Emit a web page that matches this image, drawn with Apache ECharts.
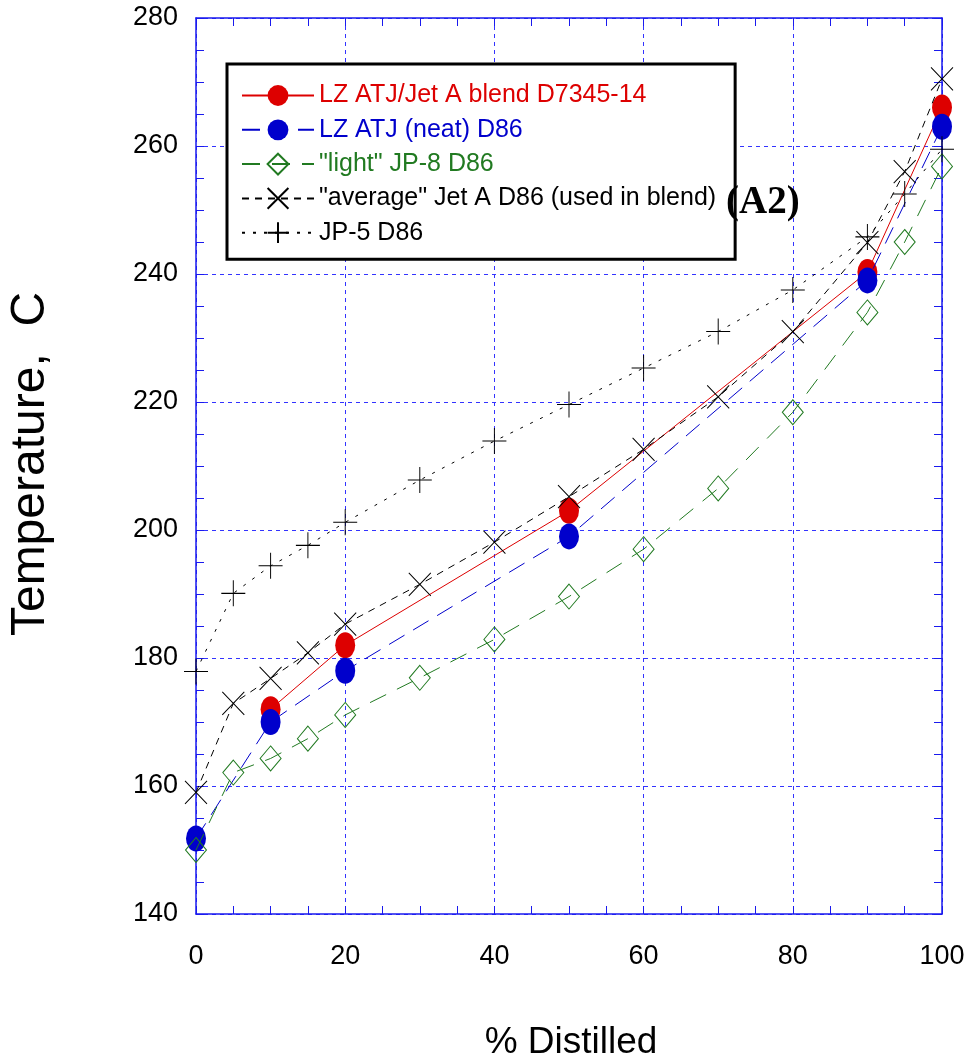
<!DOCTYPE html>
<html><head><meta charset="utf-8">
<script src="https://cdn.jsdelivr.net/npm/echarts@6/dist/echarts.min.js"></script>
<style>html,body{margin:0;padding:0;background:#fff}#c{width:969px;height:1064px}</style>
</head><body><div id="c"></div>
<script>
// ---- data ----
const xBlend = [10, 20, 50, 90, 100];
const yBlend = [172.0, 182.0, 203.0, 240.3, 266.0];
const xNeat = [0, 10, 20, 50, 90, 100];
const yNeat = [151.8, 170.0, 178.0, 199.0, 239.0, 263.0];
const xFull = [0, 5, 10, 15, 20, 30, 40, 50, 60, 70, 80, 90, 95, 100];
const yJP8 = [150.0, 162.1, 164.3, 167.4, 171.1, 176.9, 182.9, 189.6, 197.0, 206.5, 218.4, 234.0, 245.0, 256.8];
const yJetA = [159.0, 172.9, 176.8, 180.8, 185.3, 191.5, 198.1, 205.2, 212.6, 220.8, 231.0, 244.9, 256.0, 270.5];
const yJP5 = [177.9, 190.1, 194.4, 197.6, 201.2, 207.8, 213.9, 219.6, 225.3, 231.0, 237.5, 245.8, 252.5, 259.5];
const names = ['LZ ATJ/Jet A blend D7345-14', 'LZ ATJ (neat) D86', '"light" JP-8 D86', '"average" Jet A D86 (used in blend)', 'JP-5 D86'];
const xTicks = { min: 0, max: 100, interval: 20 };
const yTicks = { min: 140, max: 280, interval: 20 };

const pair = (xs, ys) => xs.map((x, i) => [x, ys[i]]);
const RED = '#dd0000', BLUE = '#0000cc', GREEN = '#217a21', BLACK = '#000000', AX = '#1a1aee';
const FONT = 'Liberation Sans, Arial, sans-serif';

function axisCommon(showLabel, showSplit) {
  return {
    axisLine: { show: true, onZero: false, lineStyle: { color: AX, width: 1.5 } },
    axisTick: { show: true, inside: true, length: 8, lineStyle: { color: AX, width: 1 } },
    minorTick: { show: true, splitNumber: 4, length: 8, lineStyle: { color: AX, width: 1 } },
    splitLine: { show: showSplit, lineStyle: { color: '#3333ff', type: [4, 4], width: 1 } },
    axisLabel: { show: showLabel, color: '#000', fontSize: 27, fontFamily: FONT }
  };
}

const chart = echarts.init(document.getElementById('c'), null, { renderer: 'canvas' });
const xPath = 'path://M0 0L10 10M10 0L0 10';
const pPath = 'path://M5 0L5 10M0 5L10 5';
chart.setOption({
  animation: false,
  backgroundColor: '#fff',
  grid: { left: 196, right: 27, top: 18, bottom: 150, containLabel: false },
  xAxis: [
    Object.assign({ type: 'value', position: 'bottom', min: xTicks.min, max: xTicks.max, interval: xTicks.interval }, axisCommon(true, true),
      { axisLabel: { color: '#000', fontSize: 27, fontFamily: FONT, margin: 29 } }),
    Object.assign({ type: 'value', position: 'top', min: xTicks.min, max: xTicks.max, interval: xTicks.interval }, axisCommon(false, false))
  ],
  yAxis: [
    Object.assign({ type: 'value', position: 'left', min: yTicks.min, max: yTicks.max, interval: yTicks.interval }, axisCommon(true, true),
      { axisLabel: { color: '#000', fontSize: 27, fontFamily: FONT, margin: 18 } }),
    Object.assign({ type: 'value', position: 'right', min: yTicks.min, max: yTicks.max, interval: yTicks.interval }, axisCommon(false, false))
  ],
  legend: {
    orient: 'vertical', left: 227, top: 64,
    padding: [19, 19, 14, 14],
    itemWidth: 72, itemHeight: 26, itemGap: 9.3, itemTextGap: 8,
    borderColor: '#000', borderWidth: 3, backgroundColor: '#fff',
    selectedMode: false,
    textStyle: { fontSize: 25, fontFamily: FONT },
    data: [
      { name: names[0], textStyle: { color: RED } },
      { name: names[1], textStyle: { color: BLUE } },
      { name: names[2], textStyle: { color: GREEN } },
      { name: names[3], textStyle: { color: BLACK } },
      { name: names[4], textStyle: { color: BLACK } }
    ]
  },
  graphic: [
    { type: 'text', left: 726, top: 183, z: 100, style: { text: '(A2)', font: 'bold 39px "Liberation Serif", "Times New Roman", serif', fill: '#000' } },
    { type: 'text', x: 31, y: 464, rotation: Math.PI / 2, z: 100, style: { text: 'Temperature,  C', font: '48px ' + FONT, fill: '#000', align: 'center', verticalAlign: 'middle' } },
    { type: 'text', x: 571, y: 1043, z: 100, style: { text: '% Distilled', font: '37px ' + FONT, fill: '#000', align: 'center', verticalAlign: 'middle' } }
  ],
  series: [
    { name: names[0], type: 'line', data: pair(xBlend, yBlend), symbol: 'circle', symbolSize: [20, 26],
      lineStyle: { color: RED, width: 1 }, itemStyle: { color: RED }, z: 2 },
    { name: names[1], type: 'line', data: pair(xNeat, yNeat), symbol: 'circle', symbolSize: [20, 26],
      lineStyle: { color: BLUE, width: 1, type: [18, 10] }, itemStyle: { color: BLUE }, z: 3 },
    { name: names[2], type: 'line', data: pair(xFull, yJP8), symbol: 'diamond', symbolSize: [21, 25],
      lineStyle: { color: GREEN, width: 1, type: [18, 12] }, itemStyle: { color: 'rgba(0,0,0,0)', borderColor: GREEN, borderWidth: 1 }, z: 4 },
    { name: names[3], type: 'line', data: pair(xFull, yJetA), symbol: xPath, symbolSize: [22, 23],
      lineStyle: { color: BLACK, width: 1, type: [7, 6] }, itemStyle: { color: 'rgba(0,0,0,0)', borderColor: BLACK, borderWidth: 1 }, z: 5 },
    { name: names[4], type: 'line', data: pair(xFull, yJP5), symbol: pPath, symbolSize: [24, 26],
      lineStyle: { color: BLACK, width: 1, type: [3, 8] }, itemStyle: { color: 'rgba(0,0,0,0)', borderColor: BLACK, borderWidth: 1 }, z: 6 }
  ]
});
</script></body></html>
